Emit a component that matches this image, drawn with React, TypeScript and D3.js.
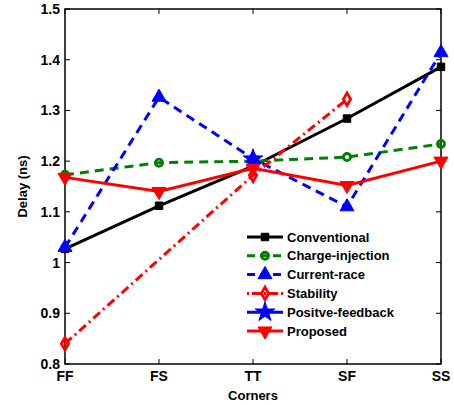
import React from "react";
import * as d3 from "d3";

const corners = ["FF", "FS", "TT", "SF", "SS"];
const yTicks = [0.8, 0.9, 1, 1.1, 1.2, 1.3, 1.4, 1.5];

const conventional = [1.027, 1.112, 1.19, 1.284, 1.386];
const chargeInjection = [1.173, 1.197, 1.2, 1.208, 1.234];
const currentRace = [1.03, 1.326, 1.205, 1.11, 1.414];
const stability = [0.84, null, 1.172, 1.322, null];
const positiveFeedback = [null, null, 1.204, null, null];
const proposed = [1.168, 1.14, 1.186, 1.152, 1.2];

type Series = {
  name: string;
  values: (number | null)[];
  color: string;
  dash: string;
  marker: string;
  filled: boolean;
};

const series: Series[] = [
  { name: "Conventional", values: conventional, color: "#000000", dash: "", marker: "square", filled: true },
  { name: "Charge-injection", values: chargeInjection, color: "#008000", dash: "9,6", marker: "circle", filled: false },
  { name: "Current-race", values: currentRace, color: "#0000ff", dash: "9,6", marker: "triangle", filled: true },
  { name: "Stability", values: stability, color: "#ff0000", dash: "9,4,2,4", marker: "diamond", filled: false },
  { name: "Positve-feedback", values: positiveFeedback, color: "#0000ff", dash: "", marker: "star", filled: true },
  { name: "Proposed", values: proposed, color: "#ff0000", dash: "", marker: "triangleDown", filled: true },
];

const W = 454;
const H = 405;
const m = { left: 65, right: 13, top: 9, bottom: 41 };

function markerPath(kind: string): string {
  const size: Record<string, [d3.SymbolType, number]> = {
    square: [d3.symbolSquare, 56],
    circle: [d3.symbolCircle, 40],
    triangle: [d3.symbolTriangle, 85],
    diamond: [d3.symbolDiamond, 45],
    star: [d3.symbolStar, 120],
    triangleDown: [d3.symbolTriangle, 85],
  };
  const [t, s] = size[kind];
  return d3.symbol(t, s)() || "";
}

function Marker({ s, x, y }: { s: Series; x: number; y: number }) {
  const rot = s.marker === "triangleDown" ? 180 : 0;
  return (
    <path
      d={markerPath(s.marker)}
      transform={`translate(${x},${y}) rotate(${rot})`}
      fill={s.filled ? s.color : "none"}
      stroke={s.color}
      strokeWidth={s.filled ? 1 : 2.8}
    />
  );
}

export default function App() {
  const x = d3
    .scalePoint<string>()
    .domain(corners)
    .range([m.left, W - m.right]);
  const y = d3.scaleLinear().domain([0.8, 1.5]).range([H - m.bottom, m.top]);

  const line = d3
    .line<[string, number]>()
    .x((d) => x(d[0]) as number)
    .y((d) => y(d[1]));

  const font = "'Liberation Sans', Arial, sans-serif";
  const legendX = 247;
  const legendY = 237;
  const legendStep = 18.8;

  return (
    <svg width={W} height={H} style={{ position: "absolute", left: 0, top: 0 }} fontFamily={font}>
      <rect width={W} height={H} fill="#fff" />
      {/* axes box and inward ticks */}
      <rect
        x={m.left}
        y={m.top}
        width={W - m.left - m.right}
        height={H - m.top - m.bottom}
        fill="none"
        stroke="#000"
        strokeWidth={1.5}
      />
      {yTicks.map((t) => (
        <g key={t}>
          <line x1={m.left} x2={m.left + 5} y1={y(t)} y2={y(t)} stroke="#000" />
          <line x1={W - m.right} x2={W - m.right - 5} y1={y(t)} y2={y(t)} stroke="#000" />
          <text
            x={m.left - 5}
            y={y(t)}
            textAnchor="end"
            dominantBaseline="central"
            fontSize={14}
            fontWeight="bold"
          >
            {t === 1 ? "1" : d3.format(".1f")(t)}
          </text>
        </g>
      ))}
      {corners.map((c) => (
        <g key={c}>
          <line x1={x(c)} x2={x(c)} y1={H - m.bottom} y2={H - m.bottom - 5} stroke="#000" />
          <line x1={x(c)} x2={x(c)} y1={m.top} y2={m.top + 5} stroke="#000" />
          <text x={x(c)} y={H - m.bottom + 17} textAnchor="middle" fontSize={14} fontWeight="bold">
            {c}
          </text>
        </g>
      ))}
      <text x={(m.left + W - m.right) / 2} y={H - 5} textAnchor="middle" fontSize={13} fontWeight="bold">
        Corners
      </text>
      <text
        transform={`translate(${27},${(m.top + H - m.bottom) / 2}) rotate(-90)`}
        textAnchor="middle"
        fontSize={13}
        fontWeight="bold"
      >
        Delay (ns)
      </text>

      {series.map((s) => {
        const pts = corners
          .map((c, i) => [c, s.values[i]] as [string, number | null])
          .filter((d) => d[1] !== null) as [string, number][];
        return (
          <g key={s.name}>
            {pts.length > 1 && (
              <path
                d={line(pts) || ""}
                fill="none"
                stroke={s.color}
                strokeWidth={3}
                strokeDasharray={s.dash}
              />
            )}
            {pts.map((d) => (
              <Marker key={d[0]} s={s} x={x(d[0]) as number} y={y(d[1])} />
            ))}
          </g>
        );
      })}

      {/* legend */}
      {series.map((s, i) => {
        const ly = legendY + i * legendStep;
        return (
          <g key={s.name}>
            <line
              x1={legendX}
              x2={legendX + 36}
              y1={ly}
              y2={ly}
              stroke={s.color}
              strokeWidth={3}
              strokeDasharray={s.dash === "" ? "" : s.dash === "9,6" ? "8,5" : "2,3,9,3"}
            />
            <Marker s={s} x={legendX + 18} y={ly} />
            <text x={legendX + 40} y={ly} dominantBaseline="central" fontSize={13} fontWeight="bold">
              {s.name}
            </text>
          </g>
        );
      })}
    </svg>
  );
}
